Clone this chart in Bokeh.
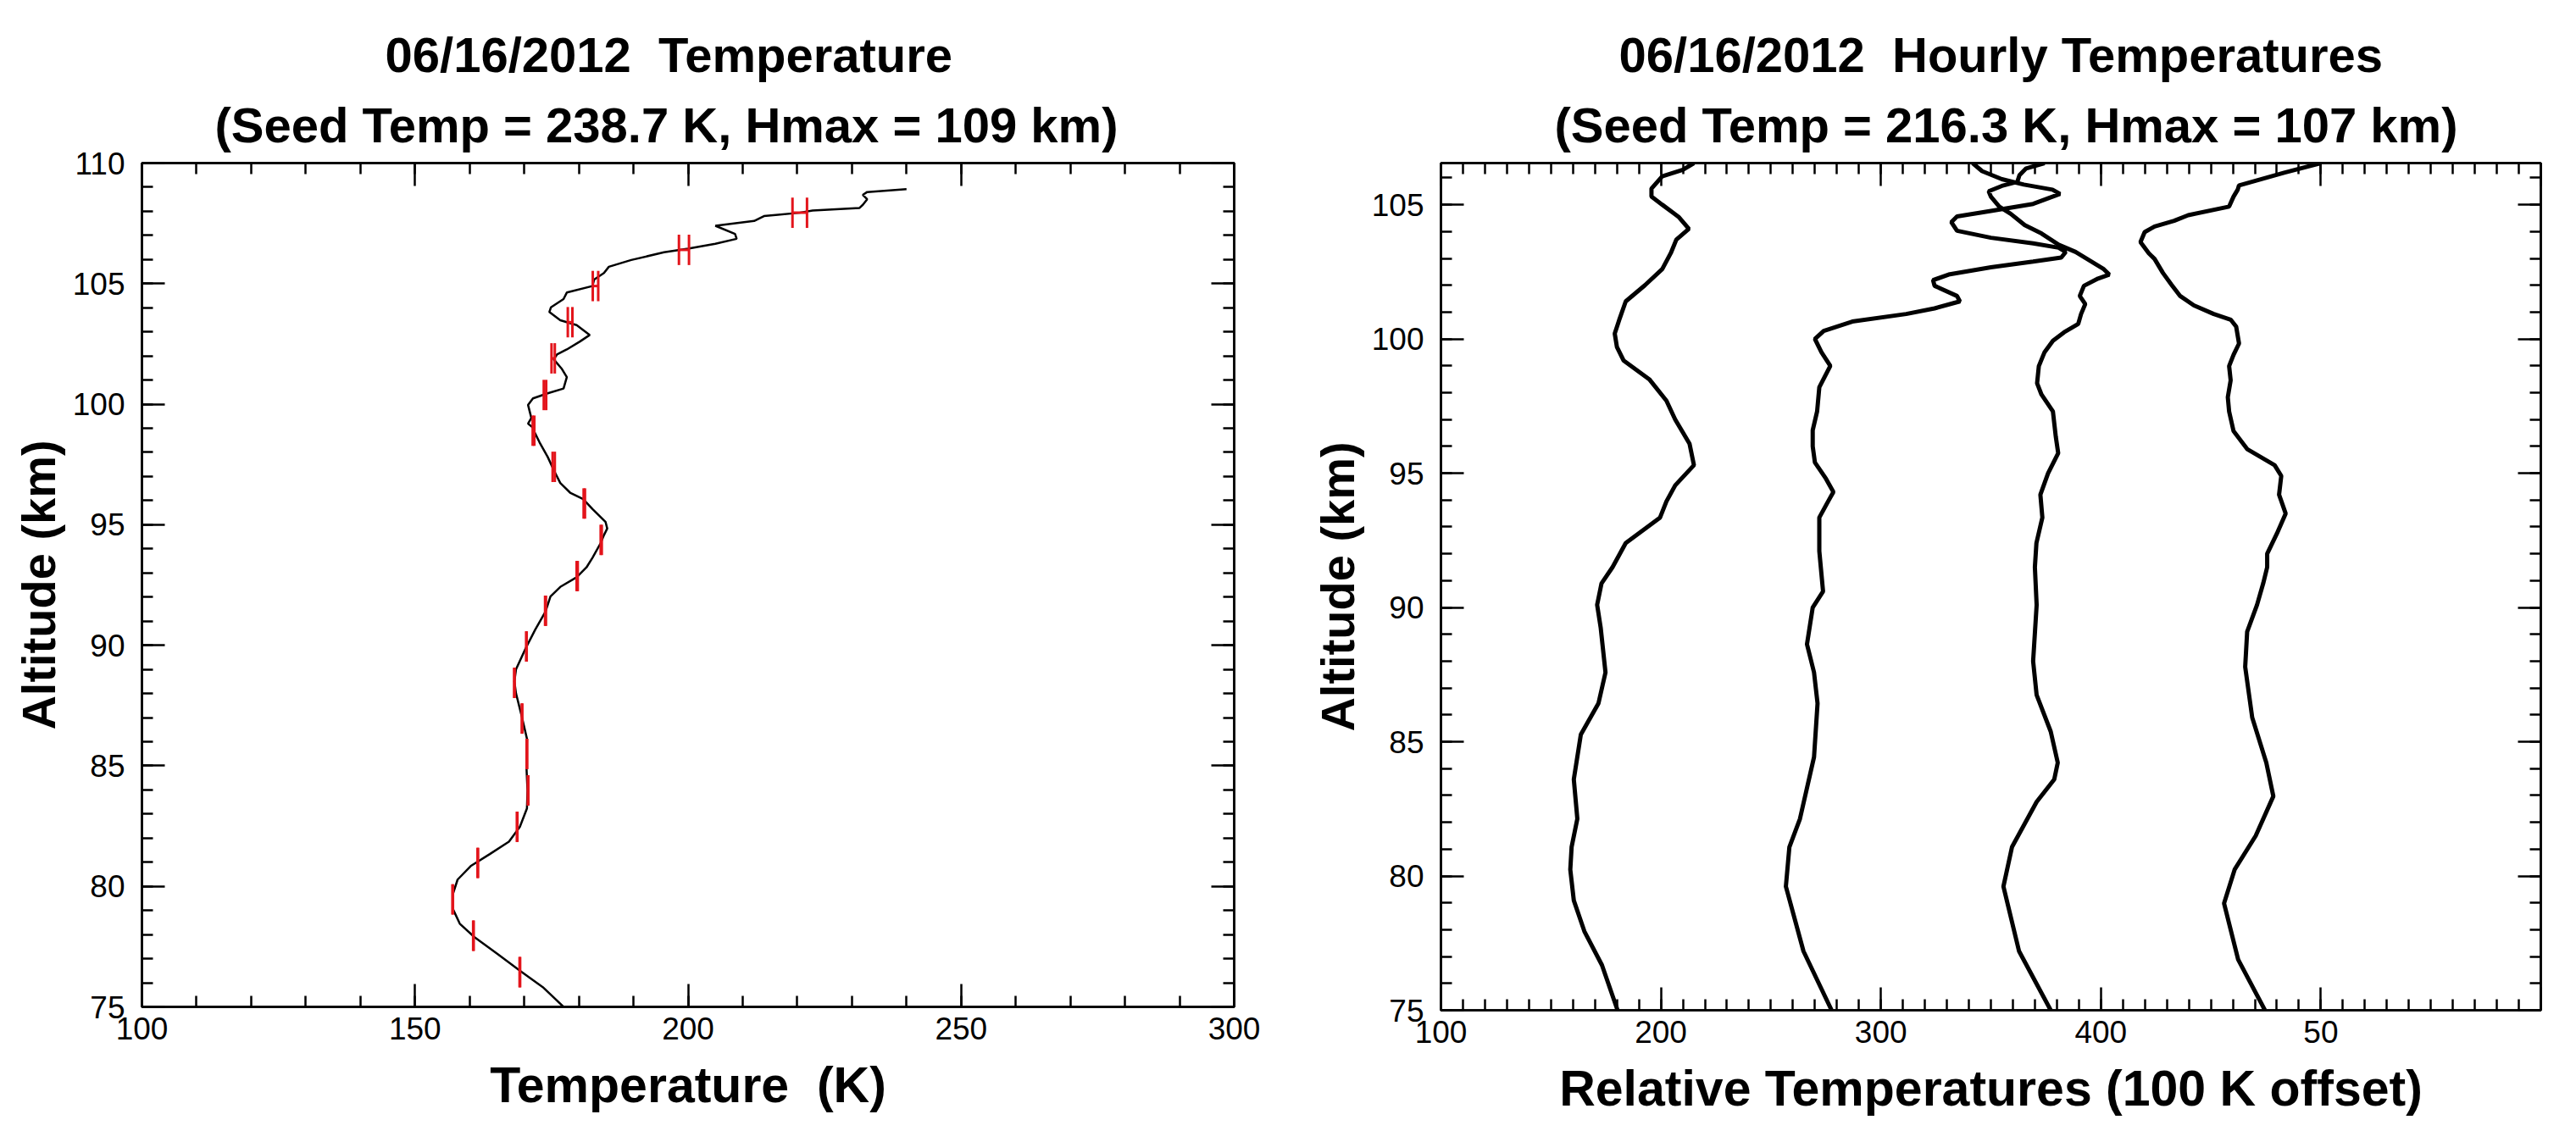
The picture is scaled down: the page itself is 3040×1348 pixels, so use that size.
from bokeh.plotting import figure
from bokeh.models import LinearAxis, SingleIntervalTicker, Title, CustomJSTickFormatter, Range1d
from bokeh.layouts import row
from bokeh.embed import file_html
from bokeh.resources import INLINE

# ---------------- data: left panel (temperature profile) ----------------
profile_alt = [75.0, 75.82, 76.5, 77.2, 77.89, 78.45, 79.08, 79.65, 80.28, 80.84, 81.34, 81.85,
               82.47, 83.23, 83.98, 84.99, 86.12, 87.0, 88.0, 88.5, 89.0, 89.89, 90.64, 91.4,
               92.02, 92.42, 92.82, 93.23, 93.63, 94.24, 94.57, 94.84, 95.11, 95.65, 96.06, 96.33,
               96.73, 97.27, 97.81, 98.42, 98.83, 99.03, 99.19, 99.43, 99.7, 99.97, 100.24, 100.45,
               100.65, 101.12, 101.46, 101.86, 102.06, 102.27, 102.6, 102.87, 103.28, 103.48, 103.82,
               104.02, 104.36, 104.63, 104.9, 105.17, 105.44, 105.7, 105.98, 106.3, 106.45, 106.65,
               106.86, 107.06, 107.4, 107.6, 107.8, 107.94, 108.03, 108.14, 108.27, 108.5, 108.68,
               108.8, 108.92]
profile_temp = [177.2, 173.4, 169.2, 165.1, 160.9, 158.2, 156.9, 156.9, 157.8, 160.2, 163.7, 167.2,
                169.2, 170.5, 170.6, 170.4, 170.5, 169.6, 168.5, 168.2, 168.5, 170.3, 172.0, 173.9,
                174.8, 176.6, 179.6, 181.4, 182.5, 184.0, 184.6, 185.2, 184.9, 182.5, 180.8, 178.4,
                176.6, 175.4, 174.3, 172.8, 171.9, 171.6, 170.7, 171.3, 171.0, 170.7, 171.6, 174.3,
                177.2, 177.8, 176.9, 175.4, 176.0, 177.8, 180.2, 182.0, 179.6, 176.6, 174.6,
                174.9, 177.2, 177.8, 182.5, 182.8, 184.6, 185.5, 189.6, 195.6, 200.0, 205.0,
                208.9, 208.6, 205.0, 212.1, 213.9, 220.4, 222.8, 231.4, 232.0, 232.8, 232.0,
                232.8, 240.0]

bar_alt = [76.44, 77.95, 79.46, 80.97, 82.47, 83.98, 85.49, 86.96, 88.44, 89.95, 91.43,
           92.87, 94.37, 95.88, 97.4, 98.9, 100.38, 101.9, 103.4, 104.9, 106.4, 107.94]
bar_temp = [169.2, 160.7, 156.9, 161.5, 168.7, 170.7, 170.5, 169.6, 168.2, 170.4, 173.9,
            179.7, 184.1, 181.0, 175.4, 171.7, 173.8, 175.3, 178.4, 183.05, 199.25, 220.45]
bar_err = [0.05, 0.05, 0.05, 0.05, 0.05, 0.05, 0.05, 0.05, 0.05, 0.05, 0.08,
           0.1, 0.1, 0.12, 0.2, 0.15, 0.22, 0.3, 0.42, 0.5, 0.92, 1.33]

# ---------------- data: right panel (hourly relative temperatures) ----------------
h1_alt = [75.0, 76.68, 77.94, 79.09, 80.24, 81.08, 82.13, 83.6, 85.27, 86.43, 87.58, 89.26, 90.1,
          90.9, 91.5, 92.4, 93.35, 93.95, 94.55, 95.3, 96.1, 97.0, 97.7, 98.5, 99.2, 99.7, 100.2,
          100.7, 101.4, 102.0, 102.6, 103.2, 103.7, 104.1, 104.55, 105.0, 105.3, 105.6, 106.06,
          106.3, 106.55]
h1_rel = [180.3, 173.2, 165.2, 160.4, 158.8, 159.4, 162.0, 160.4, 163.6, 171.6, 174.8, 172.6, 171.0,
          173.0, 178.0, 184.0, 199.6, 202.5, 206.5, 215.0, 213.0, 206.5, 202.5, 194.7, 183.0, 180.0,
          179.0, 181.0, 184.0, 192.7, 200.6, 204.5, 207.0, 212.7, 208.0, 200.6, 195.7, 195.7, 200.6,
          210.0, 215.0]

h2_alt = [75.0, 77.2, 79.61, 81.08, 82.13, 84.43, 86.43, 87.58, 88.63, 90.0, 90.6, 92.1, 93.35,
          93.95, 94.3, 94.8, 95.4, 96.0, 96.6, 97.3, 98.2, 99.0, 99.5, 100.0, 100.3, 100.65,
          100.93, 101.14, 101.4, 101.6, 101.98, 102.19, 102.4, 102.67, 102.88, 103.03, 103.24,
          103.4, 103.56, 103.77, 104.03, 104.35, 104.56, 104.77, 105.03, 105.4, 105.56, 105.75,
          105.95, 106.25, 106.55]
h2_rel = [277.6, 264.8, 256.8, 258.4, 263.2, 269.6, 271.2, 269.6, 266.4, 269.0, 273.7, 272.0, 272.0,
          276.0, 278.4, 275.0, 270.0, 269.0, 269.0, 271.0, 272.0, 277.0, 273.0, 270.0, 274.0, 287.0,
          311.5, 324.4, 335.9, 334.6, 324.4, 323.7, 330.8, 350.0, 369.2, 382.0, 384.0,
          380.8, 369.2, 350.0, 334.6, 332.0, 334.6, 350.0, 369.2, 381.4, 378.0, 365.0,
          355.0, 346.0, 341.7]

h3_alt = [75.0, 77.2, 79.61, 81.08, 82.76, 83.6, 84.22, 85.38, 86.74, 88.0, 90.09, 91.5, 92.4,
          93.35, 94.2, 95.0, 95.75, 96.36, 97.3, 97.93, 98.35, 98.99, 99.51, 99.93, 100.25,
          100.56, 100.93, 101.3, 101.6, 101.98, 102.25, 102.4, 102.6, 103.24, 103.51, 103.93,
          104.24, 104.66, 104.93, 105.3, 105.5, 105.7, 105.85, 106.1, 106.35, 106.55]
h3_rel = [377.2, 362.8, 355.7, 359.6, 370.8, 378.8, 380.4, 377.2, 370.8, 369.2, 370.8, 370.0, 370.7,
          373.4, 372.5, 376.0, 380.6, 379.5, 378.2, 373.0, 371.0, 371.8, 374.4, 378.2, 383.3,
          389.7, 391.0, 392.9, 390.4, 392.3, 398.7, 403.8, 401.3, 388.5, 380.8, 373.0,
          365.4, 359.0, 353.8, 350.0, 349.0, 355.0, 362.0, 363.0, 366.0, 374.4]

h4_alt = [75.0, 76.89, 78.98, 80.24, 81.5, 82.97, 84.22, 85.9, 87.79, 89.1, 90.1, 90.9, 91.5, 92.0,
          92.75, 93.5, 94.2, 94.9, 95.3, 95.9, 96.57, 97.3, 97.83, 98.46, 98.99, 99.41, 99.83,
          100.46, 100.72, 100.93, 101.25, 101.61, 102.03, 102.46, 102.98, 103.19, 103.61, 103.98,
          104.19, 104.4, 104.61, 104.93, 105.3, 105.56, 105.72, 106.19, 106.55]
h4_rel = [474.6, 462.4, 456.0, 460.8, 470.4, 478.4, 475.2, 468.8, 465.6, 466.5, 471.0, 473.8, 475.6,
          475.6, 480.0, 484.0, 481.0, 482.0, 479.0, 466.5, 460.3, 458.3, 457.7, 459.0, 458.3, 460.3,
          462.8, 461.5, 459.0, 451.3, 442.3, 435.9, 432.0, 428.2, 424.4, 421.8, 418.0, 419.9,
          424.4, 433.3, 439.7, 458.3, 460.3, 462.2, 462.8, 483.3, 500.0]

right_tick_labels = {500: "50", 600: ""}

# ---------------- styling ----------------
FONT = "Liberation Sans"
TITLE_SIZE = "58px"
XLABEL_SIZE = "59px"
YLABEL_SIZE = "56px"
TICK_SIZE = "37px"


def style_axis(ax, interval, minor, labels=True):
    ax.ticker = SingleIntervalTicker(interval=interval, num_minor_ticks=minor)
    ax.axis_line_width = 2.5
    ax.axis_line_color = "black"
    ax.major_tick_in = 27
    ax.major_tick_out = 0
    ax.minor_tick_in = 13
    ax.minor_tick_out = 0
    ax.major_tick_line_width = 2.5
    ax.minor_tick_line_width = 2.5
    ax.major_tick_line_color = "black"
    ax.minor_tick_line_color = "black"
    ax.major_label_text_font = FONT
    ax.major_label_text_font_size = TICK_SIZE
    ax.major_label_text_color = "black"
    ax.axis_label_text_font = FONT
    ax.axis_label_text_font_style = "bold"
    ax.axis_label_text_color = "black"
    if not labels:
        ax.formatter = CustomJSTickFormatter(code="return ''")
        ax.major_label_standoff = 0
        ax.axis_label_standoff = 0


def make_fig(xr, yr, fw, fh, bl, br, bt, bb, line1, line2, off1, off2):
    p = figure(frame_width=fw, frame_height=fh, x_range=Range1d(*xr), y_range=Range1d(*yr),
               output_backend="svg", toolbar_location=None,
               min_border_left=bl, min_border_right=br, min_border_top=bt, min_border_bottom=bb,
               background_fill_color="white", border_fill_color="white")
    p.grid.visible = False
    p.outline_line_color = "black"
    p.outline_line_width = 2.5
    # outermost title line
    p.title.text = line1
    p.title.text_font = FONT
    p.title.text_font_style = "bold"
    p.title.text_font_size = TITLE_SIZE
    p.title.text_color = "black"
    p.title.align = "left"
    p.title.offset = off1
    p.title.standoff = 7
    # inner items: top axis (closest to frame), then second title line
    p.add_layout(LinearAxis(), "above")
    t2 = Title(text=line2, text_font=FONT, text_font_style="bold", text_font_size=TITLE_SIZE,
               text_color="black", align="left", offset=off2, standoff=25)
    p.add_layout(t2, "above")
    p.add_layout(LinearAxis(), "right")
    return p


# ---------------- left panel ----------------
p1 = make_fig((100, 300), (75, 110), 1289, 996, 167, 60, 188, 136,
              "06/16/2012\u00a0 Temperature", "(Seed Temp = 238.7 K, Hmax = 109 km)", 287, 86)
style_axis(p1.below[0], 50, 5)
style_axis(p1.left[0], 5, 5)
style_axis(p1.above[0], 50, 5, labels=False)
style_axis(p1.right[0], 5, 5, labels=False)
p1.below[0].major_label_standoff = 12
p1.below[0].axis_label = "Temperature\u00a0 (K)"
p1.below[0].axis_label_text_font_size = XLABEL_SIZE
p1.below[0].axis_label_standoff = 18
p1.left[0].major_label_standoff = 20
p1.left[0].axis_label = "Altitude (km)"
p1.left[0].axis_label_text_font_size = YLABEL_SIZE
p1.left[0].axis_label_standoff = 6

p1.line(profile_temp, profile_alt, line_color="black", line_width=2.5)
CAP = 0.63
lo = [t - e for t, e in zip(bar_temp, bar_err)]
hi = [t + e for t, e in zip(bar_temp, bar_err)]
y0 = [a - CAP for a in bar_alt]
y1 = [a + CAP for a in bar_alt]
p1.segment(x0=lo, y0=y0, x1=lo, y1=y1, line_color="#e3141b", line_width=3)
p1.segment(x0=hi, y0=y0, x1=hi, y1=y1, line_color="#e3141b", line_width=3)
p1.segment(x0=lo, y0=bar_alt, x1=hi, y1=bar_alt, line_color="#e3141b", line_width=3)

# ---------------- right panel ----------------
p2 = make_fig((100, 600), (75, 106.55), 1298, 1000, 184, 30, 192, 132,
              "06/16/2012\u00a0 Hourly Temperatures", "(Seed Temp = 216.3 K, Hmax = 107 km)", 210, 134)
style_axis(p2.below[0], 100, 10)
style_axis(p2.left[0], 5, 5)
style_axis(p2.above[0], 100, 10, labels=False)
style_axis(p2.right[0], 5, 5, labels=False)
p2.below[0].major_label_overrides = right_tick_labels
p2.below[0].major_label_standoff = 12
p2.below[0].axis_label = "Relative Temperatures (100 K offset)"
p2.below[0].axis_label_text_font_size = XLABEL_SIZE
p2.below[0].axis_label_standoff = 18
p2.left[0].major_label_standoff = 20
p2.left[0].axis_label = "Altitude (km)"
p2.left[0].axis_label_text_font_size = YLABEL_SIZE
p2.left[0].axis_label_standoff = 6

for xs, ys in ((h1_rel, h1_alt), (h2_rel, h2_alt), (h3_rel, h3_alt), (h4_rel, h4_alt)):
    p2.line(xs, ys, line_color="black", line_width=5)

layout = row(p1, p2)
open("out.html", "w").write(file_html(layout, INLINE))
